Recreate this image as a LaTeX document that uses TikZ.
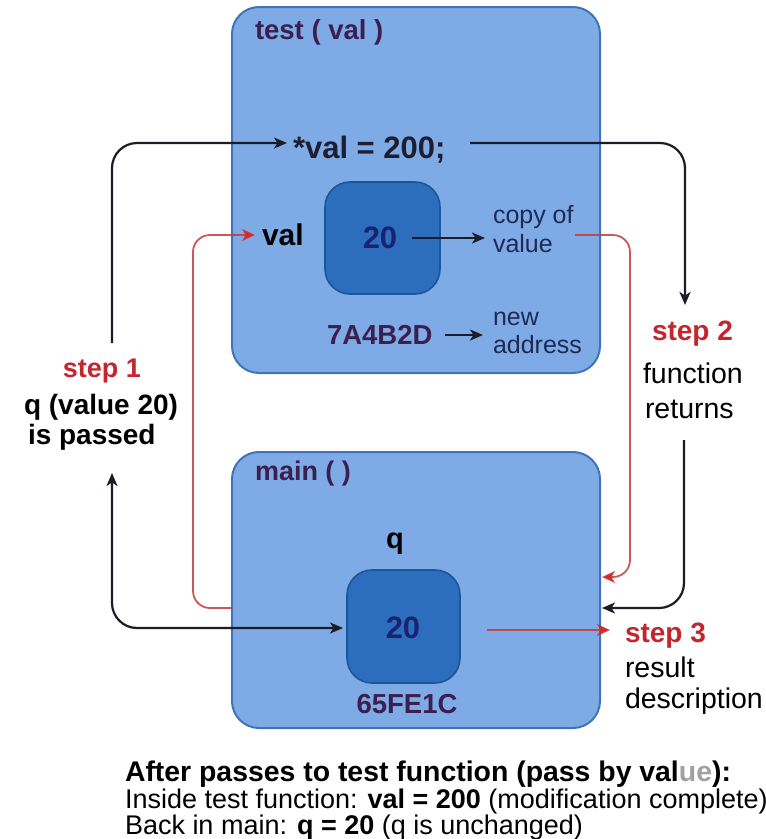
\documentclass[tikz,border=0pt]{standalone}
\usepackage{fontspec}
\setmainfont{Liberation Sans}
\usetikzlibrary{arrows.meta}

\definecolor{framefill}{HTML}{7EABE6}
\definecolor{frameedge}{HTML}{3F74B8}
\definecolor{cellfill}{HTML}{2C6EBD}
\definecolor{celledge}{HTML}{1B5698}
\definecolor{navytxt}{HTML}{1A2370}
\definecolor{plumtxt}{HTML}{3B1F4E}
\definecolor{steptxt}{HTML}{C4262E}
\definecolor{inktxt}{HTML}{1E1E32}
\definecolor{notetxt}{HTML}{1C2A55}
\definecolor{wireblack}{HTML}{1C1C28}
\definecolor{wirered}{HTML}{C23B3B}
\definecolor{tipred}{HTML}{D42A2A}
\definecolor{fadedtxt}{HTML}{A0A0A0}

\newcommand\pxsize[1]{\fontsize{#1pt}{#1pt}\selectfont}

\tikzset{
  frame/.style={draw=frameedge, fill=framefill, line width=2pt, rounded corners=27pt, inner sep=0pt},
  cell/.style={draw=celledge, fill=cellfill, line width=1.6pt, rounded corners=25pt, inner sep=0pt},
  txt/.style={inner sep=0pt, outer sep=0pt},
  bwire/.style={draw=wireblack, line width=2.2pt, rounded corners=25pt},
  rwire/.style={draw=wirered, draw opacity=0.85, line width=1.8pt, rounded corners=17pt},
  btip/.style={-{Stealth[length=13pt,width=11pt,inset=3.5pt]}},
  bbtip/.style={{Stealth[length=13pt,width=11pt,inset=3.5pt]}-{Stealth[length=13pt,width=11pt,inset=3.5pt]}},
  rtip/.style={-{Stealth[length=13pt,width=12pt,inset=3.5pt,color=tipred]}},
}

\begin{document}
\begin{tikzpicture}[x=1pt,y=-1pt]
\useasboundingbox (0,0) rectangle (766,839);

% the two stack frames
\node[frame, minimum width=368pt, minimum height=366pt] (testbox) at (416,190) {};
\node[frame, minimum width=368pt, minimum height=276pt] (mainbox) at (416,590) {};

% value cells
\node[cell, minimum width=115pt, minimum height=112pt] (tcell) at (382.5,238) {};
\node[cell, minimum width=113pt, minimum height=113pt] (qcell) at (403.5,626.5) {};

% texts inside test()
\node[txt, anchor=base west, text=plumtxt, font=\pxsize{27.5}\bfseries] (ttitle) at (255,39) {test ( val )};
\node[txt, anchor=base west, text=inktxt, font=\pxsize{31}\bfseries] (assign) at (293,158) {*val = 200;};
\node[txt, anchor=base west, text=black, font=\pxsize{30}\bfseries] (valname) at (262,245) {val};
\node[txt, text=navytxt, font=\pxsize{31}\bfseries] (tval) at (380,238) {20};
\node[txt, anchor=base west, text=notetxt, font=\pxsize{25}] (copya) at (493,223) {copy of};
\node[txt, anchor=base west, text=notetxt, font=\pxsize{25}] (copyb) at (493,252) {value};
\node[txt, anchor=base west, text=plumtxt, font=\pxsize{27.5}\bfseries] (taddr) at (327,344) {7A4B2D};
\node[txt, anchor=base west, text=notetxt, font=\pxsize{25}] (newa) at (493,325) {new};
\node[txt, anchor=base west, text=notetxt, font=\pxsize{25}] (newb) at (493,353) {address};

% texts inside main()
\node[txt, anchor=base west, text=plumtxt, font=\pxsize{27}\bfseries] (mtitle) at (255,480) {main ( )};
\node[txt, anchor=base, text=black, font=\pxsize{29}\bfseries] (qname) at (395,548) {q};
\node[txt, text=navytxt, font=\pxsize{31}\bfseries] (qval) at (403,628) {20};
\node[txt, anchor=base, text=plumtxt, font=\pxsize{27.5}\bfseries] (qaddr) at (407,713) {65FE1C};

% step labels
\node[txt, anchor=base, text=steptxt, font=\pxsize{27}\bfseries] (stepa) at (102,377) {step 1};
\node[txt, anchor=base west, text=black, font=\pxsize{28}\bfseries] (stepaa) at (24,414) {q (value 20)};
\node[txt, anchor=base west, text=black, font=\pxsize{28}\bfseries] (stepab) at (28,444) {is passed};

\node[txt, anchor=base west, text=steptxt, font=\pxsize{28}\bfseries] (stepb) at (652,340) {step 2};
\node[txt, anchor=base west, text=black, font=\pxsize{28.5}] (stepba) at (643,383) {function};
\node[txt, anchor=base west, text=black, font=\pxsize{28.5}] (stepbb) at (645,418) {returns};

\node[txt, anchor=base west, text=steptxt, font=\pxsize{28}\bfseries] (stepc) at (625,642) {step 3};
\node[txt, anchor=base west, text=black, font=\pxsize{28.5}] (stepca) at (625,677) {result};
\node[txt, anchor=base west, text=black, font=\pxsize{28.5}] (stepcb) at (625,708) {description};

% summary under the frames
\node[txt, anchor=base west, text=black, font=\pxsize{28.4}\bfseries] (suma) at (125,781)
  {After passes to test function (pass by val\textcolor{fadedtxt}{ue}):};
\node[txt, anchor=base west, text=black, font=\pxsize{27}] (sumb) at (125,808)
  {Inside test function: \textbf{val = 200} (modification complete)};
\node[txt, anchor=base west, text=black, font=\pxsize{27}] (sumc) at (125,834)
  {Back in main: \textbf{q = 20} (q is unchanged)};

% connector end points
\coordinate (s1top) at (112,343);
\coordinate (s1bot) at (112,473);
\coordinate (assignin) at (287,143);
\coordinate (assignout) at (470,143);
\coordinate (s2top) at (685,305);
\coordinate (s2bot) at (684,440);
\coordinate (mainret) at (602,608);
\coordinate (qin) at (343,628);
\coordinate (mainleft) at (232,608);
\coordinate (redleft) at (193,235);
\coordinate (valin) at (255,235);
\coordinate (copyout) at (575,235);
\coordinate (redright) at (630,235);
\coordinate (mainin) at (602,577);
\coordinate (qout) at (487,630);
\coordinate (s3in) at (610,630);
\coordinate (tvalout) at (412,238);
\coordinate (copyin) at (485,238);
\coordinate (taddrout) at (445,335);
\coordinate (newin) at (483,335);

% black flow
\draw[bwire, btip] (s1top) |- (assignin);
\draw[bwire, btip] (assignout) -| (s2top);
\draw[bwire, btip] (s2bot) |- (mainret);
\draw[bwire, bbtip] (s1bot) |- (qin);
\draw[draw=wireblack, line width=2pt, btip] (tvalout) -- (copyin);
\draw[draw=wireblack, line width=2pt, btip] (taddrout) -- (newin);

% red flow
\draw[rwire, rtip] (mainleft) -| (redleft) -- (valin);
\draw[rwire, rtip] (copyout) -- (redright) |- (mainin);
\draw[rwire, rtip] (qout) -- (s3in);
\end{tikzpicture}
\end{document}
